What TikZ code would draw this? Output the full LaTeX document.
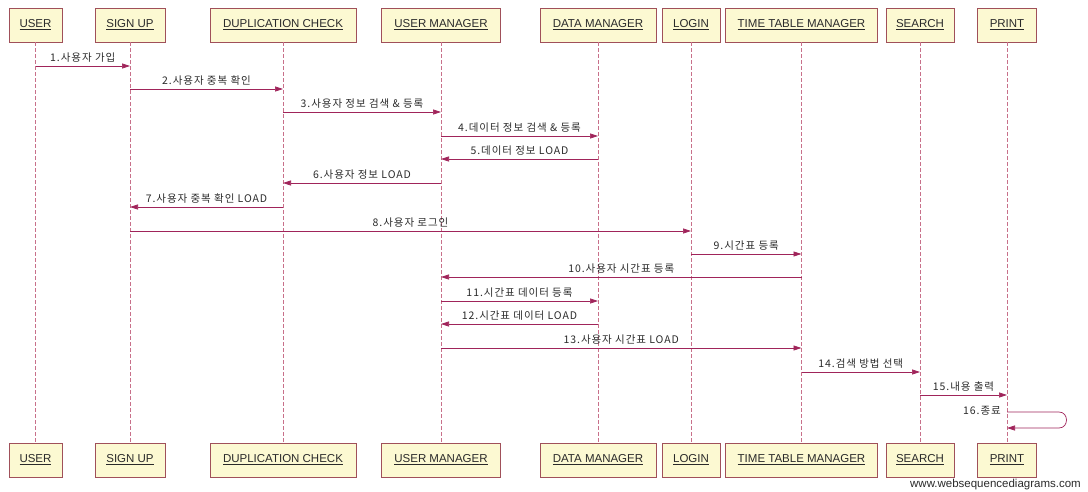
\documentclass[tikz,border=0pt]{standalone}
\usepackage{fontspec}
\setmainfont{Liberation Sans}
\newfontfamily\kr[LetterSpace=9]{Noto Sans CJK KR}
\usetikzlibrary{arrows.meta,calc}
\definecolor{boxc}{HTML}{A0505A}
\definecolor{boxf}{HTML}{FCF9D2}
\definecolor{lifec}{HTML}{C8708A}
\definecolor{msgc}{HTML}{A0245A}
\definecolor{txtc}{HTML}{2A2A2A}
\tikzset{
  actor/.style={draw=boxc, fill=boxf, line width=0.7pt, minimum height=34pt,
    inner sep=0pt, text=txtc, font=\fontsize{11.5}{13}\selectfont},
  life/.style={draw=lifec, line width=0.6pt, dash pattern=on 4pt off 2pt},
  msg/.style={draw=msgc, line width=0.7pt, -{Triangle[length=8pt,width=5pt]}},
  lbl/.style={text=txtc, font=\kr\fontsize{10.5}{12}\selectfont, inner sep=0pt, above=3pt},
}
\newcommand{\ulab}[1]{\underline{#1}}
\begin{document}
\begin{tikzpicture}[x=1pt,y=-1pt]
\useasboundingbox (0,0) rectangle (1088,491);
% top and bottom boxes, lifelines
\foreach \n/\x/\w/\t in {u/35.5/53/USER, s/130/70/SIGN UP, d/283/146/DUPLICATION CHECK,
  um/441/119/USER MANAGER, dm/598/116/DATA MANAGER, l/691/58/LOGIN,
  t/801.5/152/TIME TABLE MANAGER, se/920/68/SEARCH, p/1007/59/PRINT}{
  \node[actor, minimum width=\w pt] (\n T) at (\x,25) {\ulab{\t}};
  \node[actor, minimum width=\w pt] (\n B) at (\x,460) {\ulab{\t}};
  \draw[life] (\n T.south) -- (\n B.north);
}
% rows
\foreach \i/\y in {1/66,2/89,3/112,4/136,5/159,6/183,7/207,8/231,9/254,10/277,11/301,12/324,13/348,14/372,15/395,16/412,17/428}{
  \coordinate (r\i) at (0,\y);
}
\draw[msg] (uT |- r1) -- node[lbl] {1.사용자 가입} (sT |- r1);
\draw[msg] (sT |- r2) -- node[lbl] {2.사용자 중복 확인} (dT |- r2);
\draw[msg] (dT |- r3) -- node[lbl] {3.사용자 정보 검색 \& 등록} (umT |- r3);
\draw[msg] (umT |- r4) -- node[lbl] {4.데이터 정보 검색 \& 등록} (dmT |- r4);
\draw[msg] (dmT |- r5) -- node[lbl] {5.데이터 정보 LOAD} (umT |- r5);
\draw[msg] (umT |- r6) -- node[lbl] {6.사용자 정보 LOAD} (dT |- r6);
\draw[msg] (dT |- r7) -- node[lbl] {7.사용자 중복 확인 LOAD} (sT |- r7);
\draw[msg] (sT |- r8) -- node[lbl] {8.사용자 로그인} (lT |- r8);
\draw[msg] (lT |- r9) -- node[lbl] {9.시간표 등록} (tT |- r9);
\draw[msg] (tT |- r10) -- node[lbl] {10.사용자 시간표 등록} (umT |- r10);
\draw[msg] (umT |- r11) -- node[lbl] {11.시간표 데이터 등록} (dmT |- r11);
\draw[msg] (dmT |- r12) -- node[lbl] {12.시간표 데이터 LOAD} (umT |- r12);
\draw[msg] (umT |- r13) -- node[lbl] {13.사용자 시간표 LOAD} (tT |- r13);
\draw[msg] (tT |- r14) -- node[lbl] {14.검색 방법 선택} (seT |- r14);
\draw[msg] (seT |- r15) -- node[lbl] {15.내용 출력} (pT |- r15);
% self message
\coordinate (loopA) at ($(pT |- r16)+(52,0)$);
\coordinate (loopB) at ($(pT |- r17)+(52,0)$);
\draw[msg] (pT |- r16) -- (loopA) to[out=0,in=0,looseness=1.6] (loopB) -- (pT |- r17);
\node[text=txtc, font=\kr\fontsize{10.5}{12}\selectfont, inner sep=0pt, anchor=south east] (l16) at ($(pT |- r16)+(-6,3)$) {16.종료};
% footer
\node[text=txtc, font=\fontsize{11.5}{13}\selectfont, inner sep=0pt, anchor=east] (foot) at (1081,485) {www.websequencediagrams.com};
\end{tikzpicture}
\end{document}
